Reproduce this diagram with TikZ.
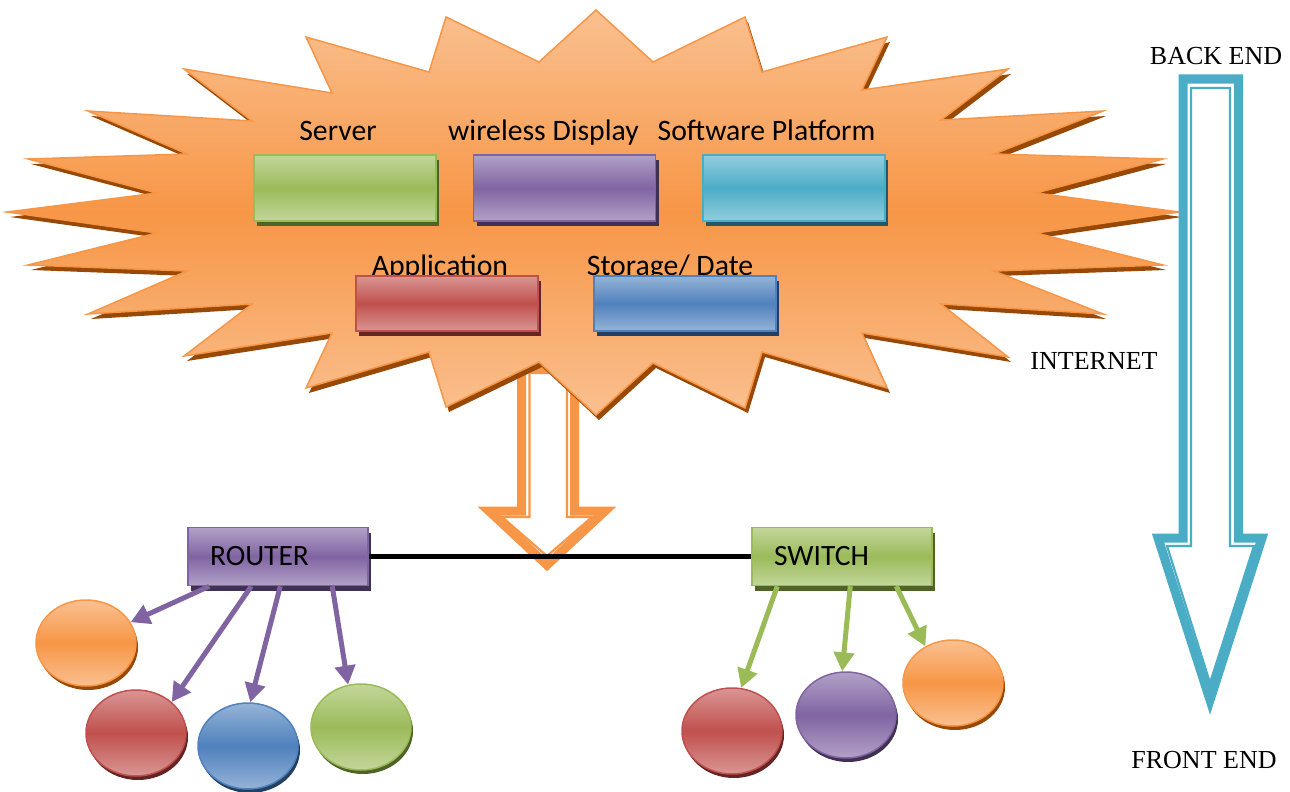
\documentclass[tikz,border=0pt]{standalone}
\usepackage{fontspec}
\setmainfont{Liberation Serif}
\newfontfamily\calibri{Carlito}
\usetikzlibrary{arrows.meta,shadows,shapes.geometric}
\definecolor{orB}{HTML}{F79646}
\definecolor{orL}{HTML}{FAC090}
\definecolor{orD}{HTML}{984807}
\definecolor{grB}{HTML}{9BBB59}
\definecolor{grL}{HTML}{C3D69B}
\definecolor{grD}{HTML}{4F6228}
\definecolor{puB}{HTML}{8064A2}
\definecolor{puL}{HTML}{B2A1C7}
\definecolor{puD}{HTML}{3F3151}
\definecolor{cyB}{HTML}{4BACC6}
\definecolor{cyL}{HTML}{93CDDD}
\definecolor{cyD}{HTML}{215968}
\definecolor{reB}{HTML}{C0504D}
\definecolor{reL}{HTML}{D99694}
\definecolor{reD}{HTML}{632423}
\definecolor{blB}{HTML}{4F81BD}
\definecolor{blL}{HTML}{95B3D7}
\definecolor{blD}{HTML}{244061}
\tikzset{
  gbox/.style n args={3}{rectangle, draw=#1, line width=1.5pt,
    top color=#2, bottom color=#2, middle color=#1,
    drop shadow={shadow xshift=3pt, shadow yshift=-5pt, fill=#3, opacity=1},
    inner sep=0pt},
  ell/.style n args={3}{ellipse, draw=#1, line width=1.5pt,
    top color=#2, bottom color=#2, middle color=#1,
    drop shadow={shadow xshift=2pt, shadow yshift=-4pt, fill=#3, opacity=1},
    minimum width=100pt, minimum height=86pt, inner sep=0pt},
  lab/.style={font=\calibri\fontsize{29.7}{32}\selectfont, inner sep=0pt},
  tlab/.style={font=\fontsize{26}{30}\selectfont, inner sep=0pt},
  netbox/.style={minimum width=180pt, minimum height=58pt, text width=136pt,
    align=left, inner xsep=22pt, inner ysep=0pt,
    font=\calibri\fontsize{29.5}{32}\selectfont},
  parr/.style={draw=puB, line width=5pt, -{Triangle[length=19pt,width=20pt]}},
  garr/.style={draw=grB, line width=5pt, -{Triangle[length=19pt,width=20pt]}},
  hollowthick/.style={line width=9pt, line join=miter},
  hollowthin/.style={line width=2.2pt, line join=miter},
}
\begin{document}
\begin{tikzpicture}[x=1pt, y=-1pt]
\useasboundingbox (0,0) rectangle (1290,792);

% middle hollow arrow (behind the cloud)
\draw[hollowthick, draw=orB] (521.5,368) -- (521.5,511) -- (489,511) -- (547,565) -- (605,511) -- (574.5,511) -- (574.5,368) -- cycle;
\draw[hollowthin, draw=orB] (529.5,373) -- (529.5,517) -- (502,517) -- (547,556) -- (592,517) -- (567,517) -- (567,373) -- cycle;

% cloud / starburst
\path[draw=orB, line width=1.5pt, top color=orL, bottom color=orL, middle color=orB,
  drop shadow={shadow xshift=3pt, shadow yshift=-5pt, fill=orD, opacity=1}]
  (596,10) -- (653,62) -- (745,17) -- (762,72) -- (887,37) -- (862,90) -- (1008,69) -- (941,120)
  -- (1103,111) -- (994,154) -- (1163,159) -- (1036,193) -- (1179,212) -- (1036,233) -- (1163,265)
  -- (994,271) -- (1103,314) -- (941,304) -- (1008,357) -- (862,333) -- (887,388) -- (762,352)
  -- (745,408) -- (653,363) -- (596,415) -- (539,362) -- (446,407) -- (429,352) -- (306,388)
  -- (332,333) -- (184,356) -- (252,304) -- (88,314) -- (187,271) -- (28,265) -- (157,233)
  -- (7,212) -- (157,193) -- (28,159) -- (187,154) -- (88,111) -- (252,121) -- (184,69)
  -- (332,93) -- (306,37) -- (429,72) -- (446,17) -- (539,62) -- cycle;

% labels in the cloud
\node[lab, anchor=base] (tServer) at (338,140) {Server};
\node[lab, anchor=base] (tWD) at (543.5,140) {wireless Display};
\node[lab, anchor=base] (tSP) at (766.5,140) {Software Platform};
\node[lab, anchor=base] (tApp) at (440,275) {Application};
\node[lab, anchor=base] (tSto) at (670,275) {Storage/ Date};

% boxes in the cloud
\node[gbox={grB}{grL}{grD}, minimum width=182pt, minimum height=66pt] (server) at (345,188) {};
\node[gbox={puB}{puL}{puD}, minimum width=182pt, minimum height=66pt] (wdisp) at (564.5,188) {};
\node[gbox={cyB}{cyL}{cyD}, minimum width=182pt, minimum height=66pt] (swplat) at (794,188) {};
\node[gbox={reB}{reL}{reD}, minimum width=182pt, minimum height=55pt] (app) at (447,303.5) {};
\node[gbox={blB}{blL}{blD}, minimum width=182pt, minimum height=55pt] (store) at (685,303.5) {};

% router and switch
\node[gbox={puB}{puL}{puD}, netbox] (router) at (278,556.5) {ROUTER};
\node[gbox={grB}{grL}{grD}, netbox] (switch) at (842,556.5) {SWITCH};
\draw[line width=5pt, black] (router.east) -- (switch.west);

% end devices
\node[ell={orB}{orL}{orD}] (o1) at (86,643) {};
\node[ell={reB}{reL}{reD}] (r1) at (136,733) {};
\node[ell={blB}{blL}{blD}] (b1) at (248,746) {};
\node[ell={grB}{grL}{grD}] (g1) at (361,727) {};
\node[ell={reB}{reL}{reD}] (r2) at (732,731) {};
\node[ell={puB}{puL}{puD}] (p2) at (846,715) {};
\node[ell={orB}{orL}{orD}] (o2) at (953,683) {};

\draw[parr] ([xshift=22pt]router.south west) -- (o1.25);
\draw[parr] ([xshift=64pt]router.south west) -- (r1.41);
\draw[parr] ([xshift=93pt]router.south west) -- (b1.87);
\draw[parr] ([xshift=145pt]router.south west) -- (g1.107);
\draw[garr] ([xshift=26pt]switch.south west) -- (r2.78);
\draw[garr] ([xshift=99pt]switch.south west) -- (p2.95);
\draw[garr] ([xshift=145pt]switch.south west) -- (o2.127);

% back end / front end arrow
\draw[hollowthick, draw=cyB] (1183,79) -- (1183,538) -- (1158,538) -- (1210,700) -- (1262,538) -- (1238.5,538) -- (1238.5,79) -- cycle;
\draw[hollowthin, draw=cyB] (1191,88) -- (1191,546) -- (1167,546) -- (1210,683) -- (1254,546) -- (1230,546) -- (1230,88) -- cycle;

\node[tlab, anchor=base] (backend) at (1216,64) {BACK END};
\node[tlab, anchor=base] (internet) at (1094,369) {INTERNET};
\node[tlab, anchor=base] (frontend) at (1204,768) {FRONT END};
\end{tikzpicture}
\end{document}
